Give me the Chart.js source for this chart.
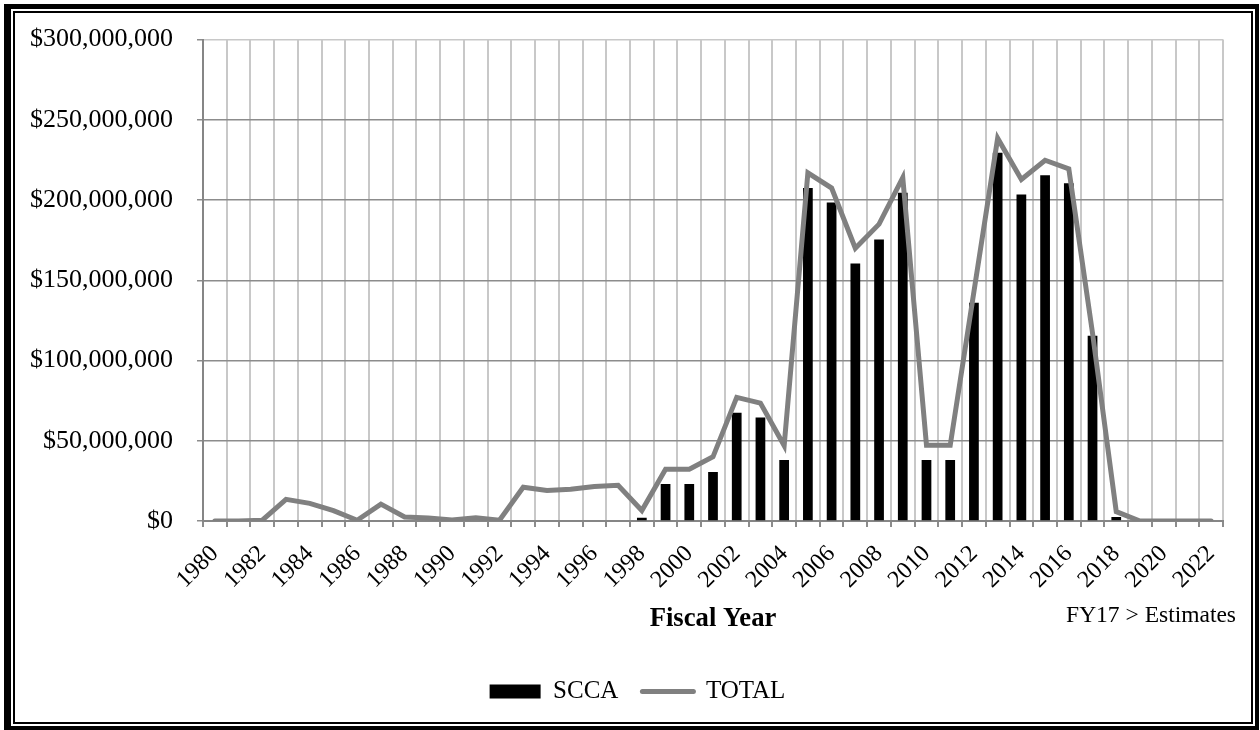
<!DOCTYPE html>
<html>
<head>
<meta charset="utf-8">
<script src="https://cdn.jsdelivr.net/npm/chart.js@4.4.1/dist/chart.umd.min.js"></script>
<style>
  html, body { margin: 0; padding: 0; background: #fff; }
  #wrap { position: relative; width: 1260px; height: 730px; overflow: hidden; background: #fff; }
  #chart { position: absolute; left: 0; top: 0; }
  .frame-outer { position: absolute; left: 4px; top: 4px; width: 1255px; height: 726px; box-sizing: border-box;
                 border-style: solid; border-color: #000; border-width: 5px 4px 4px 7px; }
  .frame-inner { position: absolute; left: 13px; top: 11px; width: 1240px; height: 713px; box-sizing: border-box;
                 border: 2px solid #000; }
</style>
</head>
<body>
<div id="wrap">
  <canvas id="chart" width="1260" height="730"></canvas>
  <div class="frame-outer"></div>
  <div class="frame-inner"></div>
</div>
<script>
// Fiscal years on the category axis
const fiscalYears = [
  '1980','1981','1982','1983','1984','1985','1986','1987','1988','1989',
  '1990','1991','1992','1993','1994','1995','1996','1997','1998','1999',
  '2000','2001','2002','2003','2004','2005','2006','2007','2008','2009',
  '2010','2011','2012','2013','2014','2015','2016','2017','2018','2019',
  '2020','2021','2022'
];

// SCCA funding per fiscal year (dollars)
const sccaFunding = [
  0, 0, 0, 0, 0, 0, 0, 0, 0, 0,
  0, 0, 0, 0, 0, 0, 0, 0, 2000000, 23000000,
  23000000, 30500000, 67500000, 64500000, 38000000, 207500000, 198500000, 160500000, 175500000, 204500000,
  38000000, 38000000, 136000000, 229500000, 203500000, 215500000, 210500000, 115500000, 2500000, 0,
  0, 0, 0
];

// Total funding per fiscal year (dollars)
const totalFunding = [
  0, 0, 500000, 13500000, 11000000, 6500000, 500000, 10500000, 2500000, 1800000,
  600000, 2000000, 500000, 21000000, 19000000, 19800000, 21500000, 22300000, 6500000, 32300000,
  32300000, 40000000, 77000000, 73500000, 47000000, 217000000, 207500000, 170000000, 185000000, 214000000,
  47200000, 47200000, 143000000, 238500000, 212800000, 224800000, 219500000, 117000000, 5800000, 0,
  0, 0, 0
];

// Value axis range and step
const yAxisMin = 0;
const yAxisMax = 300000000;
const yAxisStep = 50000000;

const serif = "'Liberation Serif', 'Times New Roman', serif";

// Note beneath the plot, right-aligned
const estimateNote = {
  id: 'estimateNote',
  afterDraw(chart) {
    const { ctx, chartArea } = chart;
    ctx.save();
    ctx.font = "23.5px " + serif;
    ctx.fillStyle = '#000';
    ctx.textAlign = 'right';
    ctx.textBaseline = 'alphabetic';
    ctx.fillText('FY17 > Estimates', chartArea.right + 13, chartArea.bottom + 101);
    ctx.restore();
  }
};

// Nudge the legend so it sits under the plot's visual centre
const legendNudge = {
  id: 'legendNudge',
  afterLayout(chart) {
    if (chart.legend) {
      chart.legend.left += 16;
      chart.legend.right += 16;
    }
  }
};

new Chart(document.getElementById('chart'), {
  data: {
    labels: fiscalYears,
    datasets: [
      {
        type: 'bar',
        label: 'SCCA',
        data: sccaFunding,
        backgroundColor: '#000',
        borderWidth: 0,
        categoryPercentage: 1.0,
        barPercentage: 0.41,
        order: 1
      },
      {
        type: 'line',
        label: 'TOTAL',
        data: totalFunding,
        borderColor: '#808080',
        backgroundColor: '#808080',
        borderWidth: 5,
        borderCapStyle: 'round',
        borderJoinStyle: 'miter',
        tension: 0,
        pointRadius: 0,
        pointHoverRadius: 0,
        fill: false,
        order: 0
      }
    ]
  },
  options: {
    responsive: false,
    animation: false,
    events: [],
    layout: { padding: { left: 20, right: 37, top: 38, bottom: 16 } },
    plugins: {
      tooltip: { enabled: false },
      legend: {
        position: 'bottom',
        labels: {
          font: { family: serif, size: 25 },
          color: '#000',
          usePointStyle: true,
          pointStyleWidth: 51,
          boxHeight: 14,
          padding: 24,
          sort: (a, b) => a.datasetIndex - b.datasetIndex,
          generateLabels(chart) {
            const items = Chart.defaults.plugins.legend.labels.generateLabels(chart);
            items.forEach(item => {
              const ds = chart.data.datasets[item.datasetIndex];
              if (ds.type === 'line') {
                item.pointStyle = 'line';
                item.lineWidth = 5;
                item.lineCap = 'round';
              } else {
                item.pointStyle = 'rect';
                item.lineWidth = 0;
              }
            });
            return items;
          }
        }
      }
    },
    scales: {
      x: {
        offset: true,
        grid: {
          offset: true,
          color: '#c8c8c8',
          lineWidth: 2,
          tickColor: '#8c8c8c',
          tickLength: 6,
          tickWidth: 2
        },
        border: { color: '#868686', width: 2 },
        ticks: {
          autoSkip: false,
          minRotation: 45,
          maxRotation: 45,
          padding: 13,
          color: '#000',
          font: { family: serif, size: 24 },
          callback(value, index) {
            return index % 2 === 0 ? this.getLabelForValue(value) : '';
          }
        },
        title: {
          display: true,
          text: 'Fiscal Year',
          color: '#000',
          font: { family: serif, size: 26.7, weight: 'bold' },
          padding: { top: 0, bottom: 20 }
        },
        afterFit(scale) { scale.height = 134; }
      },
      y: {
        min: yAxisMin,
        max: yAxisMax,
        grid: {
          color: ctx => (ctx.tick && ctx.tick.value === yAxisMax) ? '#c8c8c8' : '#8c8c8c',
          lineWidth: 1.5,
          tickColor: '#8c8c8c',
          tickLength: 6,
          tickWidth: 1.5
        },
        border: { color: '#868686', width: 2 },
        ticks: {
          stepSize: yAxisStep,
          padding: 24,
          color: '#000',
          font: { family: serif, size: 26 },
          callback: v => '$' + Number(v).toLocaleString('en-US')
        },
        afterFit(scale) { scale.width = 183; }
      }
    }
  },
  plugins: [estimateNote, legendNudge]
});
</script>
</body>
</html>
